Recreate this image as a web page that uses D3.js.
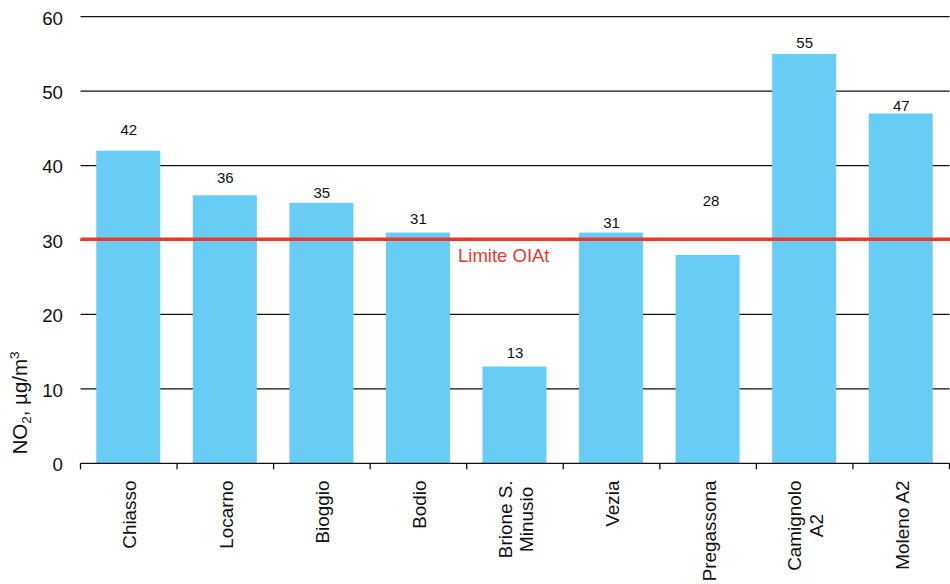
<!DOCTYPE html>
<html>
<head>
<meta charset="utf-8">
<script src="https://cdn.jsdelivr.net/npm/d3@7"></script>
<style>
  html, body { margin: 0; padding: 0; background: #fff; }
  svg { display: block; font-family: "Liberation Sans", Arial, sans-serif; }
</style>
</head>
<body>
<svg id="chart" width="950" height="584"></svg>
<script>
// ---- data ----
const categories = ["Chiasso", "Locarno", "Bioggio", "Bodio", "Brione S.\nMinusio", "Vezia", "Pregassona", "Camignolo\nA2", "Moleno A2"];
const values = [42, 36, 35, 31, 13, 31, 28, 55, 47];
const yTicks = [0, 10, 20, 30, 40, 50, 60];
const limitValue = 30;
const limitLabel = "Limite OIAt";

// ---- layout (not data) ----
const labelLift = [15.7, 12, 4.5, 9, 8.7, 5, 49, 6.3, 2.6];
const W = 950, H = 584;
const plotL = 80.5, plotR = 949.5, plotT = 16.7, plotB = 463.3;
const barColor = "#67CDF5";
const red = "#E8392C";

const svg = d3.select("#chart");

const pad = 0.337;
const x = d3.scaleBand().domain(d3.range(categories.length)).range([plotL, plotR])
  .paddingInner(pad).paddingOuter(pad / 2);
const y = d3.scaleLinear().domain([0, 60]).range([plotB, plotT]);
const step = x.step();

// gridlines
svg.append("g").selectAll("line").data(yTicks.filter(d => d > 0)).join("line")
  .attr("x1", plotL).attr("x2", plotR)
  .attr("y1", d => y(d)).attr("y2", d => y(d))
  .attr("stroke", "#111").attr("stroke-width", 1.3);

// y tick labels
svg.append("g").selectAll("text").data(yTicks).join("text")
  .attr("x", 63).attr("y", d => y(d)).attr("dy", "0.42em")
  .attr("text-anchor", "end").attr("font-size", 18.7).attr("fill", "#111")
  .text(d => d);

// bars
svg.append("g").selectAll("rect").data(values).join("rect")
  .attr("x", (d, i) => x(i) - 0.5).attr("width", x.bandwidth())
  .attr("y", d => y(d)).attr("height", d => y(0) - y(d))
  .attr("fill", barColor);

// x axis line + ticks at band boundaries
svg.append("line").attr("x1", plotL).attr("x2", plotR)
  .attr("y1", y(0)).attr("y2", y(0)).attr("stroke", "#111").attr("stroke-width", 1.3);
const bounds = d3.range(categories.length + 1).map(i => plotL + i * step);
svg.append("g").selectAll("line").data(bounds).join("line")
  .attr("x1", d => d).attr("x2", d => d)
  .attr("y1", y(0)).attr("y2", y(0) + 6)
  .attr("stroke", "#111").attr("stroke-width", 1.3);

// limit line
svg.append("line").attr("x1", plotL).attr("x2", W)
  .attr("y1", y(limitValue) - 0.8).attr("y2", y(limitValue) - 0.8)
  .attr("stroke", red).attr("stroke-width", 3.6);
svg.append("text").attr("x", 458).attr("y", 262)
  .attr("font-size", 18.5).attr("fill", red).text(limitLabel);

// value labels
svg.append("g").selectAll("text").data(values).join("text")
  .attr("x", (d, i) => x(i) + x.bandwidth() / 2 + (i === 6 ? 3 : 0))
  .attr("y", (d, i) => y(d) - labelLift[i])
  .attr("text-anchor", "middle").attr("font-size", 15).attr("fill", "#111")
  .text(d => d);

// x category labels (rotated)
const lineH = 21.5;
categories.forEach((c, i) => {
  const lines = c.split("\n");
  const cx = x(i) + x.bandwidth() / 2;
  const g = svg.append("g");
  const texts = lines.map((ln, k) => {
    const base = cx + 7.5 + (k - (lines.length - 1) / 2) * lineH;
    return g.append("text")
      .attr("font-size", 18.9).attr("fill", "#111")
      .attr("text-anchor", "middle")
      .attr("data-base", base)
      .text(ln);
  });
  const maxLen = d3.max(texts, t => t.node().getComputedTextLength());
  const yc = 480.5 + maxLen / 2;
  texts.forEach(t => {
    const base = +t.attr("data-base");
    t.attr("transform", `translate(${base},${yc}) rotate(-90)`);
  });
});

// y axis title
const yt = svg.append("text")
  .attr("transform", "translate(26.5,403) rotate(-90)")
  .attr("text-anchor", "middle").attr("font-size", 20.5).attr("fill", "#111");
yt.append("tspan").text("NO");
yt.append("tspan").attr("font-size", 13.5).attr("dy", 4.5).text("2");
yt.append("tspan").attr("dy", -4.5).text(", µg/m");
yt.append("tspan").attr("font-size", 13.5).attr("dy", -8).text("3");
</script>
</body>
</html>
